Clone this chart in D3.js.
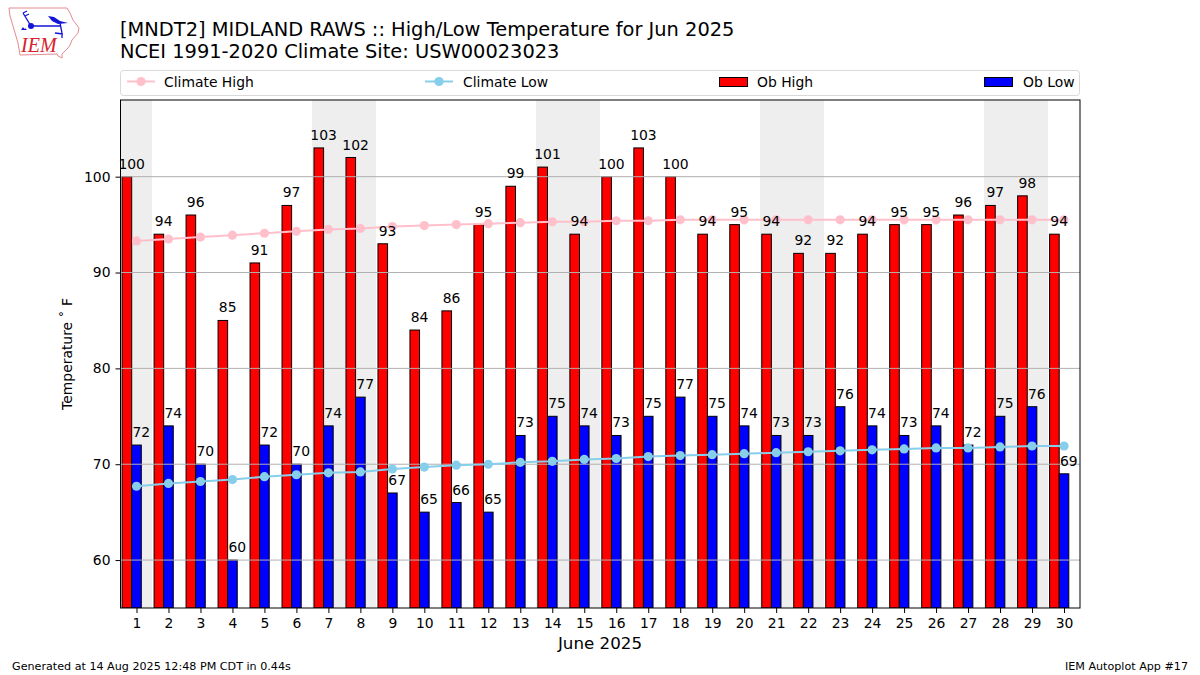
<!DOCTYPE html>
<html>
<head>
<meta charset="utf-8">
<script src="https://cdn.jsdelivr.net/npm/d3@7"></script>
<style>
  html, body { margin: 0; padding: 0; background: #fff; }
  text { font-family: "DejaVu Sans", sans-serif; fill: #000; }
</style>
</head>
<body>
<div id="chart"></div>
<script>
var days = d3.range(1, 31);
var obHigh = [100,94,96,85,91,97,103,102,93,84,86,95,99,101,94,100,103,100,94,95,94,92,92,94,95,95,96,97,98,94];
var obLow = [72,74,70,60,72,70,74,77,67,65,66,65,73,75,74,73,75,77,75,74,73,73,76,74,73,74,72,75,76,69];
var climateHigh = [93.3,93.5,93.7,93.9,94.1,94.3,94.5,94.6,94.8,94.9,95.0,95.1,95.2,95.3,95.3,95.4,95.4,95.5,95.5,95.5,95.5,95.5,95.5,95.5,95.5,95.5,95.5,95.5,95.5,95.5];
var climateLow = [67.7,68.0,68.2,68.4,68.7,68.9,69.1,69.2,69.5,69.7,69.9,70.0,70.2,70.3,70.5,70.6,70.8,70.9,71.0,71.1,71.2,71.3,71.4,71.5,71.6,71.7,71.7,71.8,71.9,71.9];
var weekendDays = [1,7,8,14,15,21,22,28,29];
var yTicks = [60,70,80,90,100];

var margin = {top:100, right:120, bottom:67, left:120.5},
    width = 1200 - margin.left - margin.right,
    height = 675 - margin.top - margin.bottom;

var svg = d3.select('#chart').append('svg')
  .attr('width', 1200)
  .attr('height', 675)
  .style('display', 'block');

var g = svg.append('g')
  .attr('transform', 'translate(' + margin.left + ',' + margin.top + ')');

// scales
var x = d3.scaleLinear().domain([0.5, 30.5]).range([0, width]),
    y = d3.scaleLinear().domain([55, 108]).range([height, 0]);

var barWidth = 0.3;

svg.append('defs').append('clipPath').attr('id', 'plotClip')
  .append('rect').attr('width', width).attr('height', height);

var plot = g.append('g').attr('clip-path', 'url(#plotClip)');

// weekend shading, slightly wide so neighbouring days leave no seam
plot.selectAll('.weekend')
  .data(weekendDays)
  .enter().append('rect')
  .attr('class', 'weekend')
  .attr('x', function(d) { return x(d - 0.5) - 0.5; })
  .attr('y', 0)
  .attr('width', x(1.5) - x(0.5) + 0.5)
  .attr('height', height)
  .attr('fill', '#eeeeee')
  .attr('shape-rendering', 'crispEdges');

// bars
plot.selectAll('.high')
  .data(days)
  .enter().append('rect')
  .attr('class', 'high')
  .attr('x', function(d) { return x(d - 0.45); })
  .attr('y', function(d, i) { return y(obHigh[i]); })
  .attr('width', x(barWidth) - x(0))
  .attr('height', function(d, i) { return height - y(obHigh[i]); })
  .attr('fill', 'red')
  .attr('stroke', '#000')
  .attr('stroke-width', 1);

plot.selectAll('.low')
  .data(days)
  .enter().append('rect')
  .attr('class', 'low')
  .attr('x', function(d) { return x(d - 0.15); })
  .attr('y', function(d, i) { return y(obLow[i]); })
  .attr('width', x(barWidth) - x(0))
  .attr('height', function(d, i) { return height - y(obLow[i]); })
  .attr('fill', 'blue')
  .attr('stroke', '#000')
  .attr('stroke-width', 1);

// grid goes over the bars
plot.selectAll('.grid')
  .data(yTicks)
  .enter().append('line')
  .attr('class', 'grid')
  .attr('x1', 0)
  .attr('x2', width)
  .attr('y1', function(d) { return y(d); })
  .attr('y2', function(d) { return y(d); })
  .attr('stroke', '#b0b0b0')
  .attr('stroke-width', 1);

// climate lines
function drawClimate(values, color) {
  var line = d3.line()
    .x(function(d, i) { return x(days[i]); })
    .y(function(d) { return y(d); });
  plot.append('path')
    .attr('d', line(values))
    .attr('fill', 'none')
    .attr('stroke', color)
    .attr('stroke-width', 2);
  plot.selectAll(null)
    .data(values)
    .enter().append('circle')
    .attr('cx', function(d, i) { return x(days[i]); })
    .attr('cy', function(d) { return y(d); })
    .attr('r', 4.6)
    .attr('fill', color);
}
drawClimate(climateHigh, 'pink');
drawClimate(climateLow, 'skyblue');

// value labels
function drawLabels(values, offset) {
  g.selectAll(null)
    .data(values)
    .enter().append('text')
    .attr('x', function(d, i) { return x(days[i] + offset); })
    .attr('y', function(d) { return y(d) - 8; })
    .attr('text-anchor', 'middle')
    .style('font-size', '13.9px')
    .text(function(d) { return d; });
}
drawLabels(obHigh, -0.15);
drawLabels(obLow, 0.15);

// axes
var xAxis = g.append('g')
  .attr('transform', 'translate(0,' + height + ')')
  .call(d3.axisBottom(x).tickValues(days).tickSize(5).tickPadding(5).tickFormat(d3.format('d')));
var yAxis = g.append('g')
  .call(d3.axisLeft(y).tickValues(yTicks).tickSize(5).tickPadding(5));
[xAxis, yAxis].forEach(function(a) {
  a.selectAll('text').style('font-size', '13.9px').style('font-family', '"DejaVu Sans", sans-serif');
  a.selectAll('.tick line').attr('stroke-width', 1);
  a.select('.domain').remove();
});

g.append('rect')
  .attr('width', width)
  .attr('height', height)
  .attr('fill', 'none')
  .attr('stroke', '#000')
  .attr('stroke-width', 1);

// titles
svg.append('text').attr('x', 120).attr('y', 36).style('font-size', '19.42px')
  .text('[MNDT2] MIDLAND RAWS :: High/Low Temperature for Jun 2025');
svg.append('text').attr('x', 120).attr('y', 58).style('font-size', '19.42px')
  .text('NCEI 1991-2020 Climate Site: USW00023023');

svg.append('text').attr('x', 600).attr('y', 649).attr('text-anchor', 'middle')
  .style('font-size', '16.7px').text('June 2025');
svg.append('text')
  .attr('transform', 'translate(72,354) rotate(-90)')
  .attr('text-anchor', 'middle')
  .style('font-size', '13.9px')
  .text('Temperature \u02da F');

svg.append('text').attr('x', 12).attr('y', 670).style('font-size', '11.15px')
  .text('Generated at 14 Aug 2025 12:48 PM CDT in 0.44s');
svg.append('text').attr('x', 1188).attr('y', 670).attr('text-anchor', 'end').style('font-size', '11.15px')
  .text('IEM Autoplot App #17');

// legend
var legendG = svg.append('g');
legendG.append('rect')
  .attr('x', 120.5).attr('y', 70.5).attr('width', 959).attr('height', 25).attr('rx', 3)
  .attr('fill', '#fff').attr('stroke', '#d9d9d9').attr('stroke-width', 1);

var legendItems = [
  {label:'Climate High', color:'pink', type:'line', px:127, tx:164},
  {label:'Climate Low', color:'skyblue', type:'line', px:425, tx:463},
  {label:'Ob High', color:'red', type:'bar', px:719, tx:757},
  {label:'Ob Low', color:'blue', type:'bar', px:984, tx:1023}
];
legendItems.forEach(function(d) {
  if (d.type == 'line') {
    legendG.append('line').attr('x1', d.px).attr('x2', d.px + 28).attr('y1', 81.5).attr('y2', 81.5)
      .attr('stroke', d.color).attr('stroke-width', 2);
    legendG.append('circle').attr('cx', d.px + 14).attr('cy', 81.5).attr('r', 4.6).attr('fill', d.color);
  } else {
    legendG.append('rect').attr('x', d.px + 0.5).attr('y', 77.5).attr('width', 28).attr('height', 9)
      .attr('fill', d.color).attr('stroke', '#000').attr('stroke-width', 1);
  }
  legendG.append('text').attr('x', d.tx).attr('y', 86.5).style('font-size', '13.9px').text(d.label);
});

// IEM logo
var logo = svg.append('g');
logo.append('path')
  .attr('d', 'M9,8 L67,8 L70,13 L73,20 L79,28 L78,33 L72,40 L70,45 L68,48 L62,54 L62,58 L58,56 L57,54 L20,55 L18,43 L13,26 L10,16 Z')
  .attr('fill', 'none').attr('stroke', '#e58a92').attr('stroke-width', 1);
logo.append('path')
  .attr('d', 'M23,13 L31,26 L60,26 M23,13 L27,11 M25,16 L29,14 M60,23 L62,33 M55,33 L63,34 M62,34 L62,38')
  .attr('fill', 'none').attr('stroke', '#1414d8').attr('stroke-width', 1.3);
logo.append('path')
  .attr('d', 'M48,16 L54,17 L60,21 L68,23 L58,24 L52,21 Z')
  .attr('fill', '#1414d8');
logo.append('circle').attr('cx', 31).attr('cy', 26).attr('r', 3).attr('fill', '#1414d8');
logo.append('path')
  .attr('d', 'M23,27 L25,30 L21,30 Z M25,28 L27,30 L24,30 Z')
  .attr('fill', '#1414d8');
logo.append('text').attr('x', 21).attr('y', 52)
  .style('font-family', '"Liberation Serif", serif').style('font-style', 'italic').style('font-size', '20px')
  .style('fill', '#d8202c').text('IEM');
</script>
</body>
</html>
